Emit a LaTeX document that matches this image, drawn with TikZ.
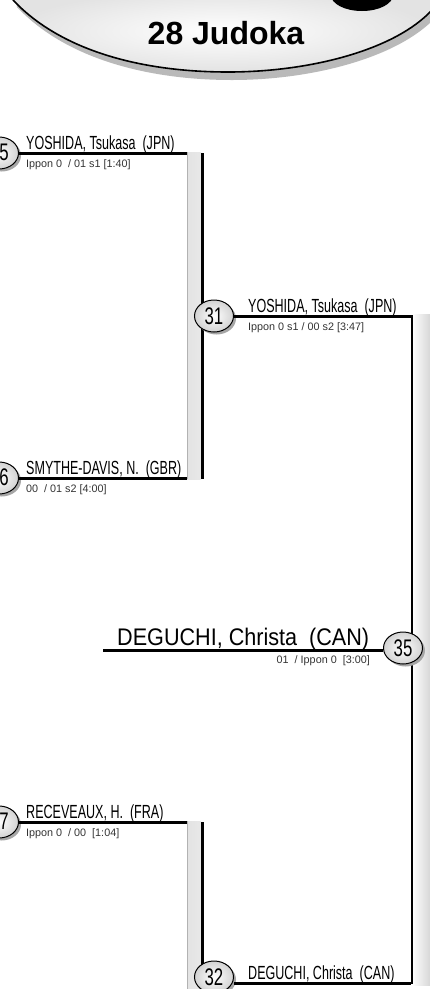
\documentclass[tikz,border=0pt]{standalone}
\usepackage{fontspec}
\setmainfont{Liberation Sans}
\newfontfamily\narrowfont[FakeStretch=0.66]{Liberation Sans}
\newfontfamily\numfont[FakeStretch=0.7]{Liberation Sans}
\newfontfamily\finalfont[FakeStretch=0.9]{Liberation Sans}
\usetikzlibrary{shadows,shapes.geometric}
\tikzset{
  seed/.style={ellipse, draw=black, line width=1pt, minimum width=39pt, minimum height=32pt,
    inner sep=0pt, inner color=white, outer color=gray!35,
    font=\numfont\fontsize{24}{24}\selectfont,
    drop shadow={shadow xshift=2.5pt, shadow yshift=-2.5pt, fill=gray!70, opacity=1}},
  seednum/.style={inner sep=0pt, font=\numfont\fontsize{24}{24}\selectfont},
  pname/.style={anchor=base west, inner sep=0pt, font=\narrowfont\fontsize{19}{19}\selectfont},
  fname/.style={anchor=base west, inner sep=0pt, font=\finalfont\fontsize{24}{24}\selectfont},
  pscore/.style={anchor=base west, inner sep=0pt, font=\fontsize{10.8}{10.8}\selectfont, text=black!80},
  fscore/.style={anchor=base east, inner sep=0pt, font=\fontsize{10.8}{10.8}\selectfont, text=black!80},
  wire/.style={line width=3pt},
  barfill/.style={left color=gray!22, middle color=white, right color=gray!18},
  barfilltwo/.style={left color=white, right color=gray!35},
}
\begin{document}
\begin{tikzpicture}[x=1pt,y=-1pt]
\useasboundingbox (0,0) rectangle (430,989);
\fill[white] (0,0) rectangle (430,989);

% header
\fill[gray!55] (17,7) .. controls (64,57) and (144,80) .. (232,80) .. controls (314,80) and (399,57) .. (436,17) -- (436,-10) -- (14,-10) -- cycle;
\fill[inner color=white, outer color=gray!22] (13,0) .. controls (60,50) and (140,72) .. (228,72) .. controls (310,72) and (395,50) .. (432,10) -- (432,-10) -- (10,-10) -- cycle;
\draw[line width=1.6pt] (13,0) .. controls (60,50) and (140,72) .. (228,72) .. controls (310,72) and (395,50) .. (432,10);
\fill[black] (362,-5) ellipse [x radius=31pt, y radius=16pt];
\node[anchor=base, inner sep=0pt, font=\bfseries\fontsize{32}{32}\selectfont] (title) at (226,44) {28 Judoka};

% coordinates
\coordinate (b1t) at (187,153);
\coordinate (b1b) at (187,478);
\coordinate (b3t) at (187,822);
\coordinate (b2t) at (411,316);
\coordinate (b2b) at (411,983);
\coordinate (fin) at (103,650);

% bars round 1
\fill[barfill] (187,152) rectangle (201,479);
\draw[gray!60, line width=0.6pt] (187,152) -- (187,479);
\draw[line width=3pt] (202,153) -- (202,479);
\fill[barfill] (187,821) rectangle (201,995);
\draw[gray!60, line width=0.6pt] (187,821) -- (187,995);
\draw[line width=3pt] (202,822) -- (202,995);

% bar round 2
\fill[barfilltwo] (412,314) rectangle (432,985);
\draw[line width=1.1pt] (412,315) -- (412,984);

% seeds
\node[seed] (c5) at (-1,153) {};
\node[seednum] (n5) at (4,152) {5};
\node[seed] (c6) at (-1,478) {};
\node[seednum] (n6) at (4,477) {6};
\node[seed] (c7) at (-1,822) {};
\node[seednum] (n7) at (4,821) {7};

% round 1 wires
\draw[wire] (c5) -- (b1t);
\draw[wire] (c6) -- (b1b);
\draw[wire] (c7) -- (b3t);

\node[pname] (p1) at (26,149) {YOSHIDA, Tsukasa\ \ (JPN)};
\node[pscore] (s1) at (26,167) {Ippon 0\ \ / 01 s1 [1:40]};
\node[pname] (p2) at (26,474) {SMYTHE-DAVIS, N.\ \ (GBR)};
\node[pscore] (s2) at (26,492) {00\ \ / 01 s2 [4:00]};
\node[pname] (p3) at (26,818) {RECEVEAUX, H.\ \ (FRA)};
\node[pscore] (s3) at (26,836) {Ippon 0\ \ / 00\ \ [1:04]};

% round 2
\node[seed] (c31) at (214,316) {31};
\node[seed] (c32) at (214,977) {32};
\draw[wire] (c31) -- (b2t);
\draw[wire] (b2b -| c32.east) -- (b2b);
\node[pname] (p4) at (248,312) {YOSHIDA, Tsukasa\ \ (JPN)};
\node[pscore] (s4) at (248,330) {Ippon 0 s1 / 00 s2 [3:47]};
\node[pname] (p5) at (248,979) {DEGUCHI, Christa\ \ (CAN)};

% final
\node[seed] (c35) at (403,648) {35};
\draw[wire] (fin) -- (fin -| c35.west);
\node[fname] (p6) at (117,645) {DEGUCHI, Christa\ \ (CAN)};
\node[fscore] (s6) at (370,663) {01\ \ / Ippon 0\ \ [3:00]};
\end{tikzpicture}
\end{document}
